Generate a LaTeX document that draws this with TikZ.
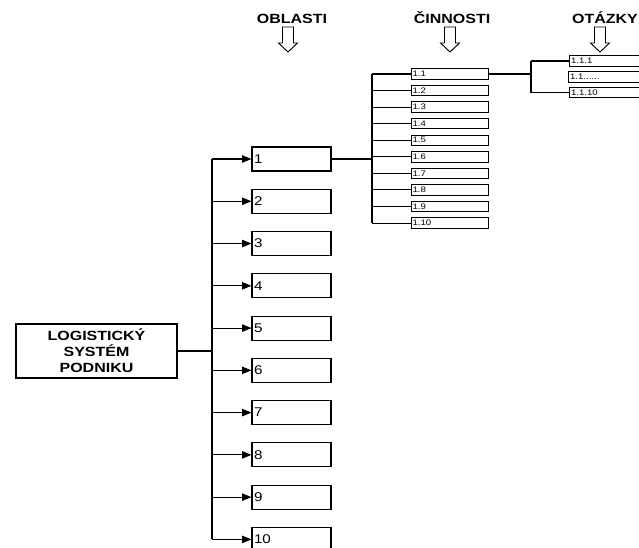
\documentclass[tikz,border=0pt]{standalone}
\usepackage{fontspec}
\setmainfont{Liberation Sans}[FakeStretch=1.2]
\usetikzlibrary{arrows.meta, positioning}

\begin{document}
\begin{tikzpicture}[
        x=0.75pt, y=-0.75pt,
        on grid,
        sysbox/.style={rectangle, draw, line width=0.8pt, minimum width=120.75pt, minimum height=40.5pt, align=center, font=\bfseries\fontsize{10}{12}\selectfont},
        areabox/.style={rectangle, draw, line width=0.8pt, minimum height=18pt, inner xsep=1.5pt, inner ysep=0pt, text width=56.25pt, align=left, font=\fontsize{9.5}{10}\selectfont},
        taskbox/.style={rectangle, draw, line width=0.7pt, minimum height=7.9pt, inner xsep=1.2pt, inner ysep=0pt, text width=55.35pt, align=left, font=\fontsize{6}{6}\selectfont},
        headline/.style={anchor=base, font=\bfseries\fontsize{10}{12}\selectfont},
        line/.style={line width=0.8pt},
        arrow/.style={line width=0.8pt, -{Triangle[length=7pt, width=5.5pt]}},
        hollowdown/.pic={\draw[line width=0.7pt] (-5.5,0) -- (-5.5,16) -- (-9.5,16) -- (0,25) -- (9.5,16) -- (5.5,16) -- (5.5,0) -- cycle;}
    ]
        \useasboundingbox (0,0) rectangle (639,547);

        % Headings
        \node[headline] (hdArea) at (292,23) {OBLASTI};
        \node[headline] (hdTask) at (452,23) {ČINNOSTI};
        \node[headline] (hdQuest) at (605,23) {OTÁZKY};
        \pic at (288,27) {hollowdown};
        \pic at (450,27) {hollowdown};
        \pic at (600,27) {hollowdown};

        % Logistic system
        \node[sysbox] (system) at (96.5,351) {LOGISTICKÝ\\SYSTÉM\\PODNIKU};

        % Areas
        \node[areabox] (area1) at (291.5,159) {1};
        \node[areabox, below=31.7pt of area1] (area2) {2};
        \node[areabox, below=31.7pt of area2] (area3) {3};
        \node[areabox, below=31.7pt of area3] (area4) {4};
        \node[areabox, below=31.7pt of area4] (area5) {5};
        \node[areabox, below=31.7pt of area5] (area6) {6};
        \node[areabox, below=31.7pt of area6] (area7) {7};
        \node[areabox, below=31.7pt of area7] (area8) {8};
        \node[areabox, below=31.7pt of area8] (area9) {9};
        \node[areabox, below=31.7pt of area9] (area10) {10};

        % Activities of area 1
        \node[taskbox] (task1) at (449.5,74) {1.1};
        \node[taskbox, below=12.42pt of task1] (task2) {1.2};
        \node[taskbox, below=12.42pt of task2] (task3) {1.3};
        \node[taskbox, below=12.42pt of task3] (task4) {1.4};
        \node[taskbox, below=12.42pt of task4] (task5) {1.5};
        \node[taskbox, below=12.42pt of task5] (task6) {1.6};
        \node[taskbox, below=12.42pt of task6] (task7) {1.7};
        \node[taskbox, below=12.42pt of task7] (task8) {1.8};
        \node[taskbox, below=12.42pt of task8] (task9) {1.9};
        \node[taskbox, below=12.42pt of task9] (task10) {1.10};

        % Questions of activity 1.1
        \node[taskbox] (quest1) at (608,61) {1.1.1};
        \node[taskbox] (quest2) at (607,77) {1.1......};
        \node[taskbox] (quest3) at (608,92.5) {1.1.10};

        % Branch points
        \coordinate (trunkArea) at (212,0);
        \coordinate (trunkTask) at (372,0);
        \coordinate (trunkQuest) at (531,0);

        % System to areas
        \draw[line] (system.east) -- (trunkArea |- system.east);
        \draw[line] (trunkArea |- area1.west) -- (trunkArea |- area10.west);
        \draw[arrow] (trunkArea |- area1.west) -- (area1.west);
        \draw[arrow] (trunkArea |- area2.west) -- (area2.west);
        \draw[arrow] (trunkArea |- area3.west) -- (area3.west);
        \draw[arrow] (trunkArea |- area4.west) -- (area4.west);
        \draw[arrow] (trunkArea |- area5.west) -- (area5.west);
        \draw[arrow] (trunkArea |- area6.west) -- (area6.west);
        \draw[arrow] (trunkArea |- area7.west) -- (area7.west);
        \draw[arrow] (trunkArea |- area8.west) -- (area8.west);
        \draw[arrow] (trunkArea |- area9.west) -- (area9.west);
        \draw[arrow] (trunkArea |- area10.west) -- (area10.west);

        % Area 1 to activities
        \draw[line] (area1.east) -- (trunkTask |- area1.east);
        \draw[line] (trunkTask |- task1.west) -- (trunkTask |- task10.west);
        \draw[line] (trunkTask |- task1.west) -- (task1.west);
        \draw[line] (trunkTask |- task2.west) -- (task2.west);
        \draw[line] (trunkTask |- task3.west) -- (task3.west);
        \draw[line] (trunkTask |- task4.west) -- (task4.west);
        \draw[line] (trunkTask |- task5.west) -- (task5.west);
        \draw[line] (trunkTask |- task6.west) -- (task6.west);
        \draw[line] (trunkTask |- task7.west) -- (task7.west);
        \draw[line] (trunkTask |- task8.west) -- (task8.west);
        \draw[line] (trunkTask |- task9.west) -- (task9.west);
        \draw[line] (trunkTask |- task10.west) -- (task10.west);

        % Activity 1.1 to questions
        \draw[line] (task1.east) -- (trunkQuest |- task1.east);
        \draw[line] (quest1.west -| trunkQuest) -- (quest3.west -| trunkQuest);
        \draw[line] (quest1.west -| trunkQuest) -- (quest1.west);
        \draw[line] (quest3.west -| trunkQuest) -- (quest3.west);

    \end{tikzpicture}
\end{document}
